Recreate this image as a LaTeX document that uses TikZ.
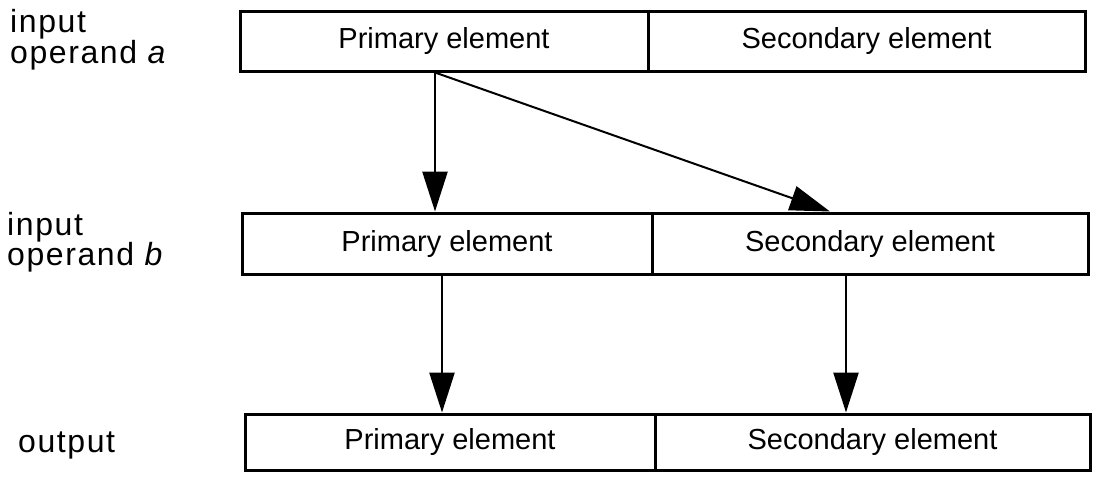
\documentclass[tikz,border=0pt]{standalone}
\usepackage{fontspec}
\setmainfont{Liberation Sans}
\newfontfamily\labelfont[LetterSpace=5]{Liberation Sans}
\usetikzlibrary{arrows.meta,calc}

\tikzset{
  cell/.style={draw, line width=3pt, inner sep=0pt, anchor=center,
    font=\fontsize{29}{32}\selectfont},
  side/.style={anchor=base west, inner sep=0pt, align=left,
    font=\labelfont\fontsize{32}{31}\selectfont},
  arr/.style={line width=2.6pt,
    -{Triangle[length=40pt,width=25pt]}},
}

\begin{document}
\begin{tikzpicture}[x=1pt,y=-1pt]
\useasboundingbox (0,0) rectangle (1094,477);

% row labels
\node[side] (la1) at (10,32) {input};
\node[side] (la2) at (10,63) {operand \textit{a}};
\node[side] (lb1) at (7,235) {input};
\node[side] (lb2) at (7,265) {operand \textit{b}};
\node[side] (lo)  at (18,452) {output};

% operand a
\node[cell, minimum width=408, minimum height=59.5] (a1) at (444,41.25) {Primary element};
\node[cell, minimum width=437, minimum height=59.5] (a2) at (866.5,41.25) {Secondary element};

% operand b
\node[cell, minimum width=410, minimum height=61] (b1) at (447,243.5) {Primary element};
\node[cell, minimum width=436, minimum height=61] (b2) at (870,243.5) {Secondary element};

% output
\node[cell, minimum width=410, minimum height=56] (c1) at (450,442) {Primary element};
\node[cell, minimum width=435, minimum height=56] (c2) at (872.5,442) {Secondary element};

% start and end points of the connectors
\coordinate (s1) at ([xshift=-9pt]a1.south);
\coordinate (t1) at (s1 |- b1.north);
\coordinate (t2) at ([xshift=-40pt]b2.north);
\coordinate (s3) at ([xshift=-5pt]b1.south);
\coordinate (t3) at (s3 |- c1.north);
\coordinate (s4) at ([xshift=-24pt]b2.south);
\coordinate (t4) at (s4 |- c2.north);

\draw[arr] (s1) -- (t1);
\draw[arr, line width=2pt] (s1) -- (t2);
\draw[arr] (s3) -- (t3);
\draw[arr] (s4) -- (t4);
\end{tikzpicture}
\end{document}
